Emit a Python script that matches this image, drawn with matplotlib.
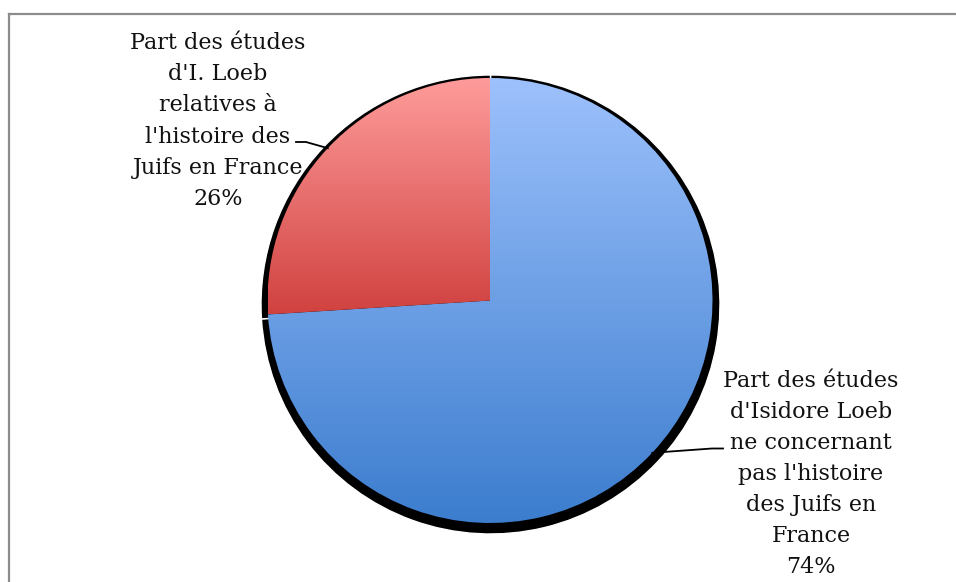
import numpy as np
import matplotlib
matplotlib.use("Agg")
import matplotlib.pyplot as plt
from matplotlib.lines import Line2D

# ---- data ----
categories = [
    "Part des études d'Isidore Loeb ne concernant pas l'histoire des Juifs en France",
    "Part des études d'I. Loeb relatives à l'histoire des Juifs en France",
]
values = [74, 26]
label_lines = [
    ["Part des études", "d'Isidore Loeb", "ne concernant", "pas l'histoire", "des Juifs en", "France"],
    ["Part des études", "d'I. Loeb", "relatives à", "l'histoire des", "Juifs en France"],
]
percent_labels = ["74%", "26%"]

# ---- layout ----
W, H = 956, 582
fig = plt.figure(figsize=(W / 100, H / 100), dpi=100)
ax = fig.add_axes([0, 0, 1, 1])

cx, cy, r = 490, H - 300.5, 222.5

# shadow
ax.pie(values, startangle=90, counterclock=False, radius=229.5, center=(490.5, H - 304.5),
       colors=["black", "black"], wedgeprops=dict(linewidth=1.0, edgecolor="white"))

wedges, _ = ax.pie(values, startangle=90, counterclock=False, radius=r, center=(cx, cy),
                   colors=["none", "none"], wedgeprops=dict(linewidth=0))

grads = [((157, 193, 252), (60, 125, 206)), ((254, 156, 155), (208, 66, 64))]
for w, (c0, c1) in zip(wedges, grads):
    t = np.radians(np.linspace(w.theta1, w.theta2, 400))
    xs = np.concatenate([[w.center[0]], w.center[0] + w.r * np.cos(t)])
    ys = np.concatenate([[w.center[1]], w.center[1] + w.r * np.sin(t)])
    x0, x1, y0, y1 = xs.min(), xs.max(), ys.min(), ys.max()
    n = 256
    f = np.linspace(0, 1, n)[:, None]
    c0a, c1a = np.array(c0) / 255, np.array(c1) / 255
    img = (c0a + (c1a - c0a) * f)[:, None, :] * np.ones((1, 2, 1))
    im = ax.imshow(img, extent=(x0, x1, y0, y1), origin="upper", aspect="auto",
                   interpolation="bilinear", zorder=2)
    im.set_clip_path(w)

ax.set_xlim(0, W)
ax.set_ylim(0, H)
ax.set_aspect("equal")
ax.axis("off")

font = dict(family="DejaVu Serif", fontsize=16, color="#111111")

def mid_point(w):
    a = np.radians((w.theta1 + w.theta2) / 2)
    return w.center[0] + w.r * np.cos(a), w.center[1] + w.r * np.sin(a)

# blue label (index 0)
lines0 = label_lines[0] + [percent_labels[0]]
for i, s in enumerate(lines0):
    ax.text(811, H - (387 + 31 * i), s, ha="center", va="baseline", **font)
mx, my = mid_point(wedges[0])
ax.add_line(Line2D([mx, 712, 723], [my, H - 448.5, H - 448.5], color="black", lw=1.3, zorder=5))

# red label (index 1)
lines1 = label_lines[1] + [percent_labels[1]]
for i, s in enumerate(lines1):
    ax.text(218, H - (49 + 31.2 * i), s, ha="center", va="baseline", **font)
mx, my = mid_point(wedges[1])
ax.add_line(Line2D([296, 306, mx], [H - 142, H - 142, my], color="black", lw=1.3, zorder=5))

# chart border
fig.add_artist(Line2D([9 / W, 9 / W], [0, 1 - 13.5 / H], transform=fig.transFigure, color="#8c8c8c", lw=1.6))
fig.add_artist(Line2D([9 / W, 1], [1 - 13.5 / H, 1 - 13.5 / H], transform=fig.transFigure, color="#8c8c8c", lw=1.6))

fig.savefig("out.png", dpi=100)
